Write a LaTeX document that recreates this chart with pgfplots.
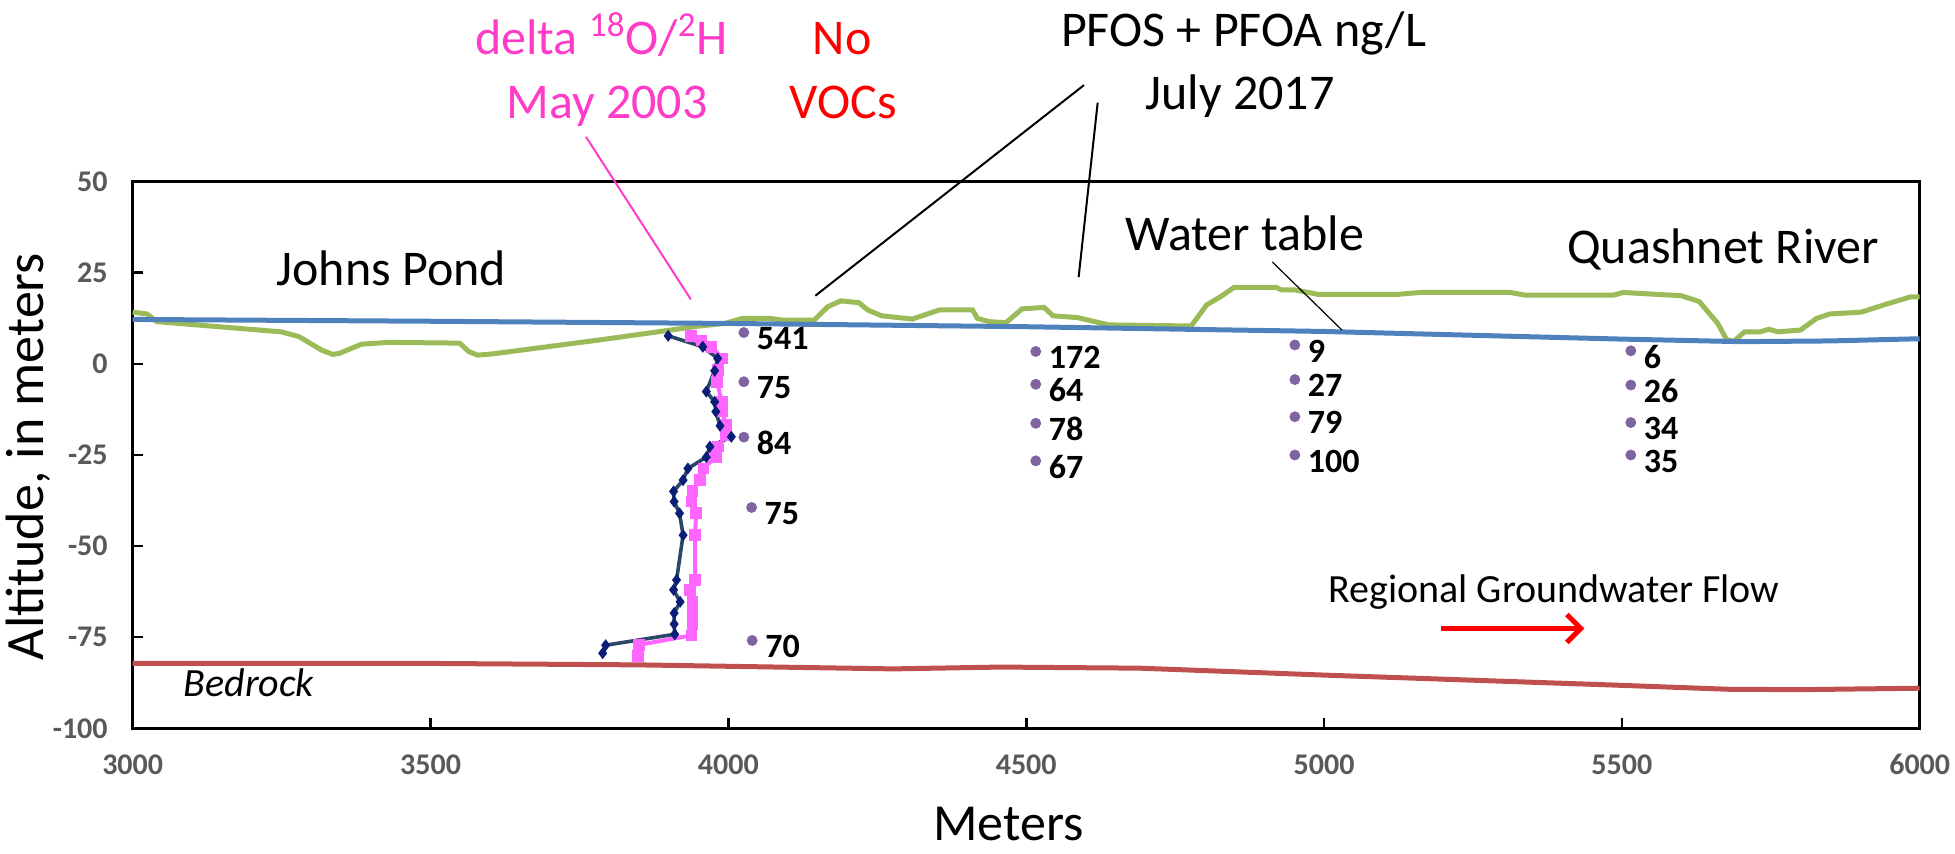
\documentclass[border=0pt]{standalone}
\usepackage{pgfplots}
\pgfplotsset{compat=1.18}
\usepackage{pgfplotstable}
\usepackage{fontspec}
\setmainfont{Carlito}
\usetikzlibrary{arrows.meta}

\definecolor{landgreen}{HTML}{9BBB59}
\definecolor{wtblue}{HTML}{4F81BD}
\definecolor{bedred}{HTML}{C0504D}
\definecolor{dotpurple}{HTML}{8064A2}
\definecolor{isopink}{HTML}{FF66FF}
\definecolor{txtpink}{HTML}{FF3CC8}
\definecolor{profline}{HTML}{2B4766}
\definecolor{profmark}{HTML}{0A1E78}
\definecolor{tickgray}{HTML}{595959}

% land surface
\pgfplotstableread{
x y
3000 14.2
3024 13.7
3040 11.6
3249 8.8
3279 7.5
3317 3.8
3336 2.6
3347 2.9
3384 5.4
3429 5.9
3549 5.7
3564 3.4
3579 2.4
3602 2.7
3785 6.6
3952 10.4
3994 11.1
4024 12.5
4069 12.5
4092 12.0
4144 12.0
4167 15.7
4189 17.3
4219 16.8
4234 14.8
4257 13.2
4309 12.3
4354 14.8
4410 14.8
4418 12.5
4437 11.6
4466 11.3
4493 15.1
4530 15.5
4545 13.2
4586 12.7
4639 10.7
4777 10.4
4803 16.2
4826 18.4
4849 21.0
4920 21.0
4928 20.3
4951 20.3
4989 19.1
5125 19.1
5162 19.6
5313 19.6
5336 18.9
5487 18.9
5502 19.6
5600 18.7
5630 17.1
5661 11.1
5676 6.6
5688 6.2
5706 8.8
5732 8.8
5747 9.5
5762 8.8
5800 9.3
5827 12.5
5849 13.7
5902 14.2
5940 16.2
5985 18.4
6000 18.4
}\landtable

% water table
\pgfplotstableread{
x y
3000 12.2
3500 11.7
4000 11.1
4500 10.2
5000 8.9
5500 6.8
5700 6.1
5850 6.3
6000 6.9
}\wttable

% bedrock
\pgfplotstableread{
x y
3000 -82.2
3500 -82.2
3850 -82.6
4276 -83.7
4456 -83.2
4690 -83.5
5000 -85.4
5480 -88.1
5680 -89.3
5800 -89.4
6000 -89.0
}\bedtable

% profile, dark blue diamonds
\pgfplotstableread{
x y
3899 7.7
3957 4.7
3982 1.5
3977 -1.9
3963 -7.6
3977 -10.4
3979 -13.1
3986 -17.0
4005 -20.0
3969 -22.7
3963 -25.6
3932 -28.7
3924 -31.9
3908 -35.0
3909 -37.8
3918 -41.0
3924 -47.0
3913 -59.3
3908 -62.0
3919 -65.3
3909 -68.4
3909 -71.4
3910 -74.2
3794 -77.2
3789 -79.4
}\proftable

% delta 18O/2H, pink squares
\pgfplotstableread{
x y
3937 7.7
3955 6.4
3972 4.7
3990 1.5
3983 -1.7
3981 -4.9
3989 -10.4
3990 -13.1
3996 -16.8
3996 -19.5
3983 -22.7
3979 -25.5
3958 -28.7
3952 -31.9
3940 -34.8
3938 -37.8
3946 -41.0
3944 -47.0
3944 -59.3
3936 -62.0
3940 -65.3
3940 -68.4
3940 -71.4
3938 -74.5
3850 -77.1
3848 -80.2
}\isotable

% PFOS + PFOA, ng/L
\pgfplotstableread{
x y lab
4026 8.6 541
4026 -4.9 75
4026 -20.1 84
4039 -39.4 75
4040 -75.9 70
4516 3.4 172
4516 -5.6 64
4516 -16.3 78
4516 -26.6 67
4951 5.2 9
4951 -4.3 27
4951 -14.5 79
4951 -25.0 100
5515 3.6 6
5515 -5.8 26
5515 -16.1 34
5515 -25.0 35
}\pfastable

\begin{document}
\begin{tikzpicture}
\path[use as bounding box] (-66.35pt,-62.85pt) rectangle (911.15pt,364.15pt);
\begin{axis}[
  at={(0,0)}, anchor=south west,
  scale only axis, width=893.5pt, height=273.3pt,
  xmin=3000, xmax=6000, ymin=-100, ymax=50,
  xtick={3000,3500,4000,4500,5000,5500,6000},
  xticklabels={3000,3500,4000,4500,5000,5500,6000},
  ytick={-100,-75,-50,-25,0,25,50},
  yticklabels={-100,-75,-50,-25,0,25,50},
  tick align=inside, xtick pos=left, ytick pos=left,
  major tick length=5pt,
  tick style={black, line width=1.3pt},
  axis line style={black, line width=1.5pt},
  ticklabel style={font=\fontsize{15}{17}\selectfont\bfseries, text=tickgray},
  yticklabel style={xshift=-9pt},
  xticklabel style={yshift=-9.5pt},
  xlabel={Meters}, ylabel={Altitude, in meters},
  every axis x label/.style={at={(axis description cs:0.49,-0.176)}, anchor=center, inner sep=0pt, font=\fontsize{26}{30}\selectfont},
  every axis y label/.style={at={(axis description cs:-0.0586,0.497)}, anchor=center, rotate=90, inner sep=0pt, font=\fontsize{27}{31}\selectfont},
  clip=false,
]
\addplot[landgreen, line width=2.5pt] table {\landtable};
\addplot[wtblue, line width=2.5pt] table {\wttable};
\addplot[bedred, line width=2.5pt] table {\bedtable};
\addplot[isopink, line width=2pt, mark=square*, mark size=1.9pt,
  mark options={fill=isopink, draw=isopink}] table {\isotable};
\addplot[profline, line width=1.8pt, mark=diamond*, mark size=2.6pt,
  mark options={fill=profmark, draw=profmark, line width=0.5pt}] table {\proftable};
\addplot[only marks, mark=*, mark size=2.5pt, color=dotpurple,
  point meta=explicit symbolic, nodes near coords,
  nodes near coords style={anchor=west, xshift=3pt, yshift=-3pt, text=black,
    font=\fontsize{17}{20}\selectfont\bfseries}] table[meta=lab] {\pfastable};

\tikzset{big/.style={font=\fontsize{25}{30}\selectfont, anchor=base}}
\node[big] at (axis cs:3434,21.6) {Johns Pond};
\node[big] at (axis cs:5670,27.6) {Quashnet River};
\node[big] at (axis cs:4867,31.2) {Water table};
\node[big, text=txtpink] at (axis cs:3787,84.8) {delta \textsuperscript{18}O/\textsuperscript{2}H};
\node[big, text=txtpink] at (axis cs:3796,67.4) {May 2003};
\node[big, text=red] at (axis cs:4191,84.8) {No};
\node[big, text=red] at (axis cs:4193,67.4) {VOCs};
\node[big] at (axis cs:4865,87.0) {PFOS + PFOA ng/L};
\node[big] at (axis cs:4859,69.7) {July 2017};
\node[font=\fontsize{20}{24}\selectfont, anchor=base] at (axis cs:5386,-65.4) {Regional Groundwater Flow};
\node[font=\fontsize{20}{24}\selectfont\itshape, anchor=base] at (axis cs:3195,-91.3) {Bedrock};

\draw[txtpink, line width=1pt] (axis cs:3761,62.3) -- (axis cs:3937,17.7);
\draw[black, line width=1pt] (axis cs:4597,76.5) -- (axis cs:4146,18.7);
\draw[black, line width=1pt] (axis cs:4620,71.7) -- (axis cs:4588,23.8);
\draw[black, line width=0.6pt] (axis cs:4913,28.0) -- (axis cs:5030,9.3);
\draw[red, line width=2.5pt, -{Straight Barb[length=7pt, width=14pt]}] (axis cs:5197,-72.6) -- (axis cs:5437,-72.6);
\end{axis}
\end{tikzpicture}
\end{document}
